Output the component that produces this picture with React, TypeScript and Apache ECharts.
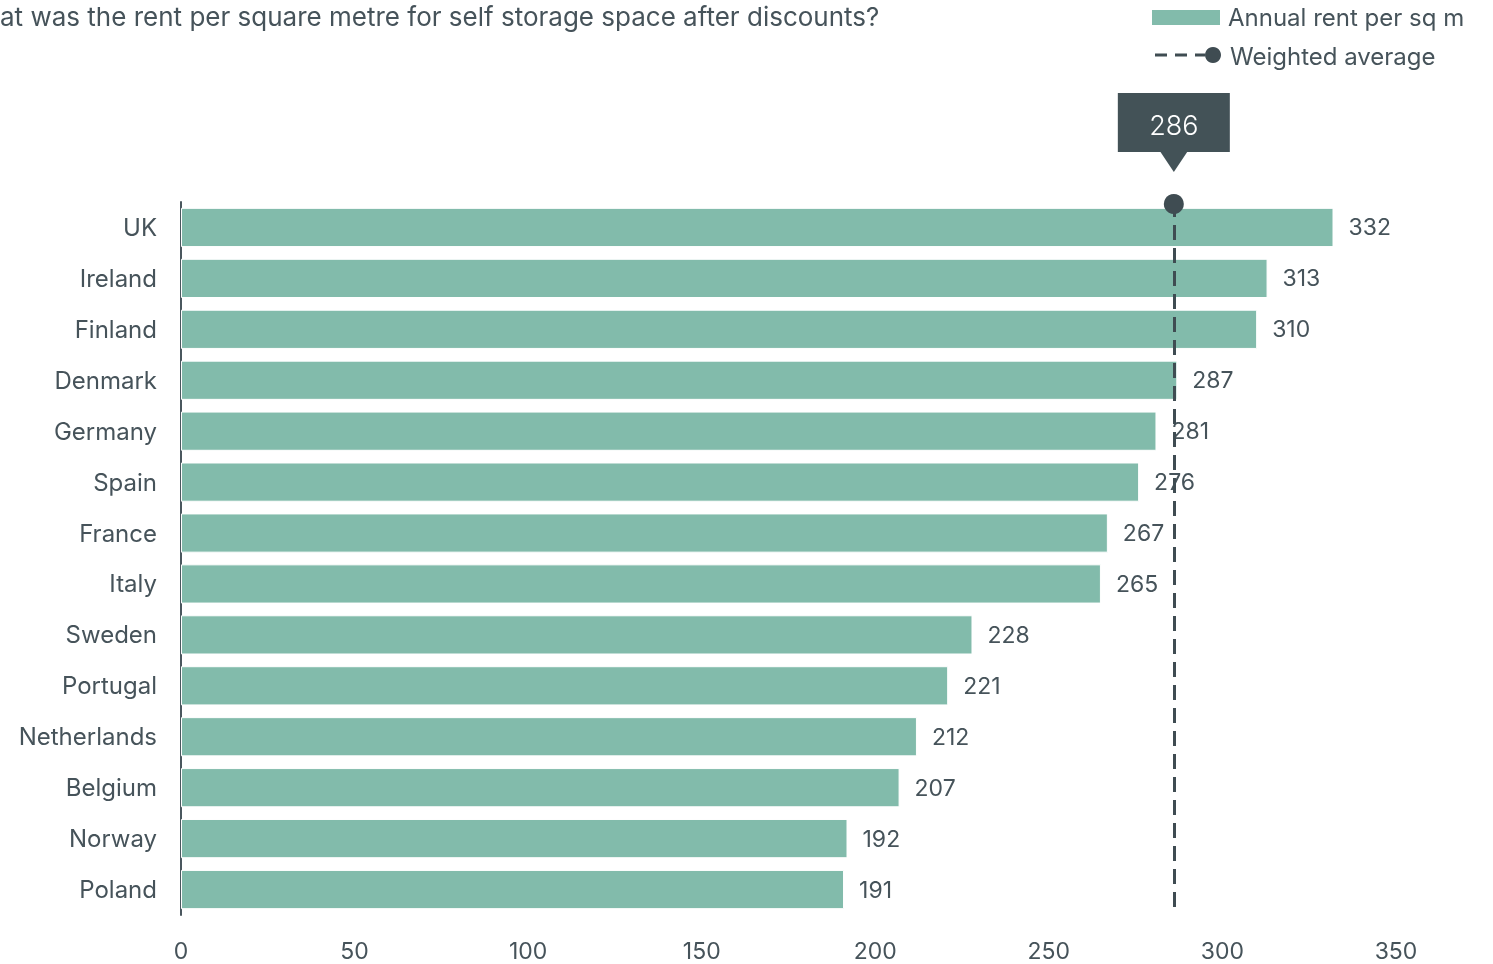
import React, { useEffect, useRef } from "react";
import * as echarts from "echarts";

const categories = ["UK", "Ireland", "Finland", "Denmark", "Germany", "Spain", "France", "Italy", "Sweden", "Portugal", "Netherlands", "Belgium", "Norway", "Poland"];
const rentValues = [332, 313, 310, 287, 281, 276, 267, 265, 228, 221, 212, 207, 192, 191];
const weightedAverage = 286;
const xTicks = [0, 50, 100, 150, 200, 250, 300, 350];
const titleText = "at was the rent per square metre for self storage space after discounts?";
const legendBar = "Annual rent per sq m";
const legendLine = "Weighted average";

const FONT = "Inter, 'Noto Sans', sans-serif";
const DARK = "#46535a";
const GREEN = "#82bbab";
const LINE = "#3f4c52";

export default function App() {
  const ref = useRef<HTMLDivElement>(null);
  useEffect(() => {
    if (!ref.current) return;
    const chart = echarts.init(ref.current, null, { renderer: "svg" });
    const gridTop = 202;
    const gridBottom = 964 - 915;
    chart.setOption({
      animation: false,
      textStyle: { fontFamily: FONT },
      grid: { left: 181, right: 1493 - 1396, top: gridTop, bottom: gridBottom, containLabel: false },
      xAxis: {
        type: "value",
        min: xTicks[0],
        max: xTicks[xTicks.length - 1],
        interval: 50,
        axisLine: { show: false },
        axisTick: { show: false },
        splitLine: { show: false },
        axisLabel: { color: DARK, fontSize: 23, margin: 24, fontFamily: FONT },
      },
      yAxis: {
        type: "category",
        data: categories,
        inverse: true,
        axisLine: { show: true, lineStyle: { color: "#4a575e", width: 2 } },
        axisTick: { show: false },
        axisLabel: { color: DARK, fontSize: 24, margin: 24, fontFamily: FONT, padding: [8, 0, 0, 0] },
      },
      series: [
        {
          type: "bar",
          name: legendBar,
          data: rentValues,
          barCategoryGap: "23%",
          itemStyle: { color: GREEN, borderColor: "#ffffff", borderWidth: 1 },
          label: {
            show: true,
            position: "right",
            distance: 15,
            color: DARK,
            fontSize: 23,
            fontFamily: FONT,
            padding: [8, 0, 0, 0],
          },
          markLine: {
            silent: true,
            symbol: ["none", "none"],
            label: { show: false },
            lineStyle: { color: LINE, width: 3, type: [15, 8] },
            data: [{ xAxis: weightedAverage }],
          },
        },
      ],
    });

    const px = chart.convertToPixel({ xAxisIndex: 0 }, weightedAverage) as number;
    const boxW = 112;
    const boxH = 59;
    const boxTop = 93;
    chart.setOption({
      graphic: [
        {
          type: "text",
          left: 0,
          top: 3,
          style: { text: titleText, fontSize: 26, fill: DARK, fontFamily: FONT },
        },
        // legend
        { type: "rect", shape: { x: 1152, y: 10, width: 68, height: 15 }, style: { fill: GREEN } },
        {
          type: "text",
          x: 1228,
          y: 17,
          style: { text: legendBar, fontSize: 24, fill: DARK, fontFamily: FONT, verticalAlign: "middle" },
        },
        { type: "line", shape: { x1: 1155, y1: 55, x2: 1205, y2: 55 }, style: { stroke: LINE, lineWidth: 3, lineDash: [12, 8] } },
        { type: "circle", shape: { cx: 1213, cy: 55, r: 8 }, style: { fill: LINE } },
        {
          type: "text",
          x: 1230,
          y: 56,
          style: { text: legendLine, fontSize: 24, fill: DARK, fontFamily: FONT, verticalAlign: "middle" },
        },
        // dot atop average line
        { type: "circle", shape: { cx: px, cy: 204, r: 10 }, style: { fill: LINE }, z: 100 },
        // callout
        { type: "rect", shape: { x: px - boxW / 2, y: boxTop, width: boxW, height: boxH }, style: { fill: "#435257" }, z: 100 },
        {
          type: "polygon",
          shape: { points: [[px - 14, boxTop + boxH - 1], [px + 14, boxTop + boxH - 1], [px, boxTop + boxH + 20]] },
          style: { fill: "#435257" },
          z: 100,
        },
        {
          type: "text",
          x: px,
          y: boxTop + boxH / 2 + 3,
          z: 101,
          style: { text: String(weightedAverage), fontSize: 27, fontWeight: 300, fill: "#ffffff", fontFamily: FONT, align: "center", verticalAlign: "middle" },
        },
      ],
    });
    return () => chart.dispose();
  }, []);
  return <div ref={ref} style={{ position: "fixed", left: 0, top: 0, width: 1493, height: 964 }} />;
}
